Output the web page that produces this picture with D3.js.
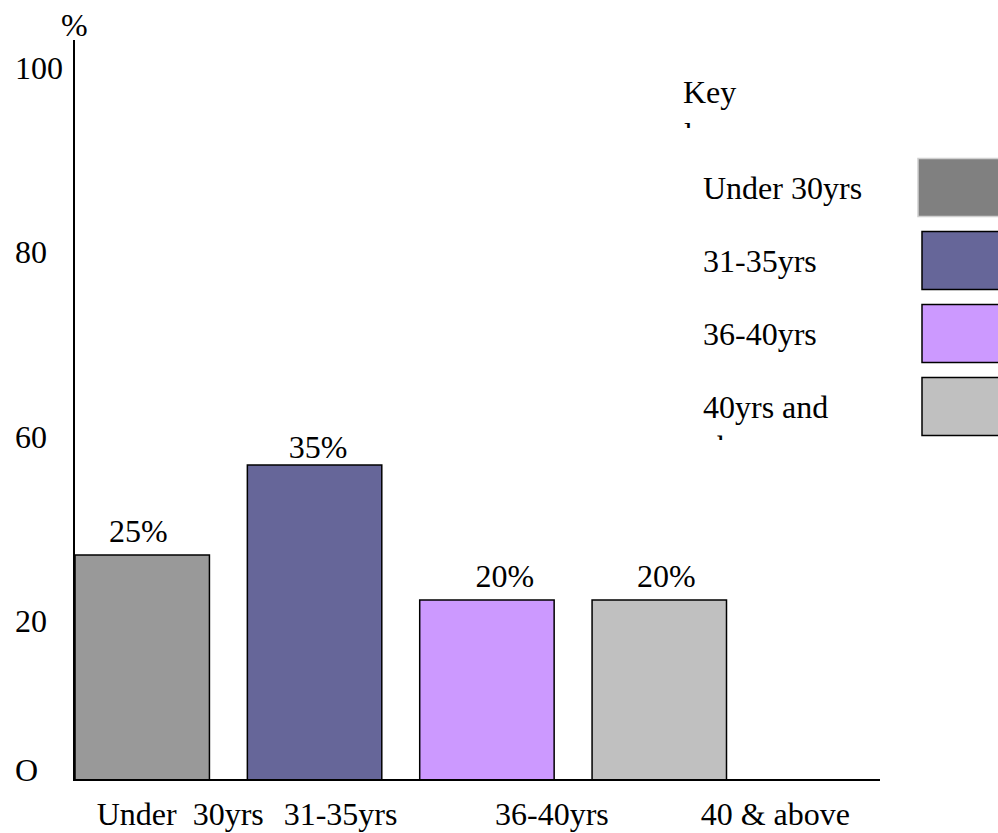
<!DOCTYPE html>
<html><head><meta charset="utf-8">
<script src="https://cdn.jsdelivr.net/npm/d3@7"></script>
<style>
body{margin:0;background:#fff}
svg{display:block;background:#fff}
text{font-family:"Liberation Serif","Times New Roman",serif;font-size:32px;fill:#000;white-space:pre}
</style>
</head><body>
<svg id="c" width="998" height="833"></svg>
<script>
// ---- data ----
const categories = ["Under  30yrs", "31-35yrs", "36-40yrs", "40 & above"];
const values = [25, 35, 20, 20];
const valueLabels = ["25%", "35%", "20%", "20%"];
const yTickLabels = ["100", "80", "60", "20", "O"];
const yTickAt = [78, 57.5, 37, 16.5, 0];
const legendTitle = "Key";
const legendLabels = ["Under 30yrs", "31-35yrs", "36-40yrs", "40yrs and above"];
const barColors = ["#999999", "#666699", "#cc99ff", "#c0c0c0"];
const swatchColors = ["#808080", "#666699", "#cc99ff", "#c0c0c0"];

// ---- layout (not data) ----
const xLabelShift = [38, 26, 65, 116];
const valueLabelShift = [[-4, -13], [3.5, -7], [18, -13], [7, -13]];

const svg = d3.select("#c");
const axisX = 74, baseY = 780;

const y = d3.scaleLinear().domain([0, 82]).range([baseY, 42]);
const x = d3.scaleBand().domain(categories).range([75, 726.5]).paddingInner(0.22).paddingOuter(0);

// bars
svg.append("g").selectAll("rect").data(categories).join("rect")
  .attr("x", d => x(d))
  .attr("y", (d, i) => y(values[i]))
  .attr("width", x.bandwidth())
  .attr("height", (d, i) => y(0) - y(values[i]))
  .attr("fill", (d, i) => barColors[i])
  .attr("stroke", "#000").attr("stroke-width", 1.5);

// value labels
svg.append("g").selectAll("text").data(categories).join("text")
  .attr("x", (d, i) => x(d) + x.bandwidth() / 2 + valueLabelShift[i][0])
  .attr("y", (d, i) => y(values[i]) + valueLabelShift[i][1])
  .attr("text-anchor", "middle")
  .text((d, i) => valueLabels[i]);

// y axis
const yAxis = d3.axisLeft(y).tickValues(yTickAt).tickSize(0)
  .tickFormat((d, i) => yTickLabels[i]);
const gy = svg.append("g").attr("transform", `translate(${axisX},0)`).call(yAxis);
gy.select(".domain").remove();
gy.selectAll(".tick text")
  .attr("x", 15 - axisX).attr("dy", 0)
  .attr("text-anchor", "start")
  .style("font-family", '"Liberation Serif","Times New Roman",serif')
  .style("font-size", "32px").attr("fill", "#000");
svg.append("line").attr("x1", axisX).attr("x2", axisX)
  .attr("y1", y(82) - 2).attr("y2", y(0) + 1)
  .attr("stroke", "#000").attr("stroke-width", 2);
svg.append("text").attr("x", 61).attr("y", 36).text("%");

// x axis
const xAxis = d3.axisBottom(x).tickSize(0).tickPadding(0);
const gx = svg.append("g").attr("transform", `translate(0,${baseY})`).call(xAxis);
gx.select(".domain").remove();
gx.selectAll(".tick text")
  .attr("x", (d, i) => xLabelShift[i]).attr("y", 45).attr("dy", 0)
  .style("font-family", '"Liberation Serif","Times New Roman",serif')
  .style("font-size", "32px").style("white-space", "pre").attr("fill", "#000");
svg.append("line").attr("x1", axisX - 1).attr("x2", 880)
  .attr("y1", baseY).attr("y2", baseY)
  .attr("stroke", "#000").attr("stroke-width", 2);

// legend
const defs = svg.append("defs");
defs.append("clipPath").attr("id", "clipKey").append("rect")
  .attr("x", 670).attr("y", 60).attr("width", 200).attr("height", 68);
defs.append("clipPath").attr("id", "clipLeg").append("rect")
  .attr("x", 690).attr("y", 150).attr("width", 200).attr("height", 290);

const keyT = svg.append("text").attr("clip-path", "url(#clipKey)")
  .attr("x", 683).attr("y", 103);
keyT.append("tspan").attr("x", 683).attr("dy", 0).text(legendTitle);
keyT.append("tspan").attr("x", 684).attr("dy", 42).text("l");

const ly = d3.scalePoint().domain(legendLabels).range([187.5, 406.5]);
const swH = 58;
svg.append("g").selectAll("rect").data(legendLabels).join("rect")
  .attr("x", (d, i) => i === 0 ? 918 : 922)
  .attr("y", d => ly(d) - swH / 2)
  .attr("width", 100).attr("height", swH)
  .attr("fill", (d, i) => swatchColors[i])
  .attr("stroke", (d, i) => i === 0 ? "#d0d0d0" : "#000")
  .attr("stroke-width", 1.5);

const lt = svg.append("g").attr("clip-path", "url(#clipLeg)")
  .selectAll("text").data(legendLabels).join("text")
  .attr("x", 703).attr("y", d => ly(d) + 11);
lt.each(function (d) {
  const t = d3.select(this);
  const words = d.split(" ");
  const lines = d.length > 12 ? [words.slice(0, 2).join(" "), words.slice(2).join(" ")] : [d];
  lines.forEach((ln, j) => t.append("tspan").attr("x", 703).attr("dy", j ? 40 : 0).text(ln));
});
</script>
</body></html>
